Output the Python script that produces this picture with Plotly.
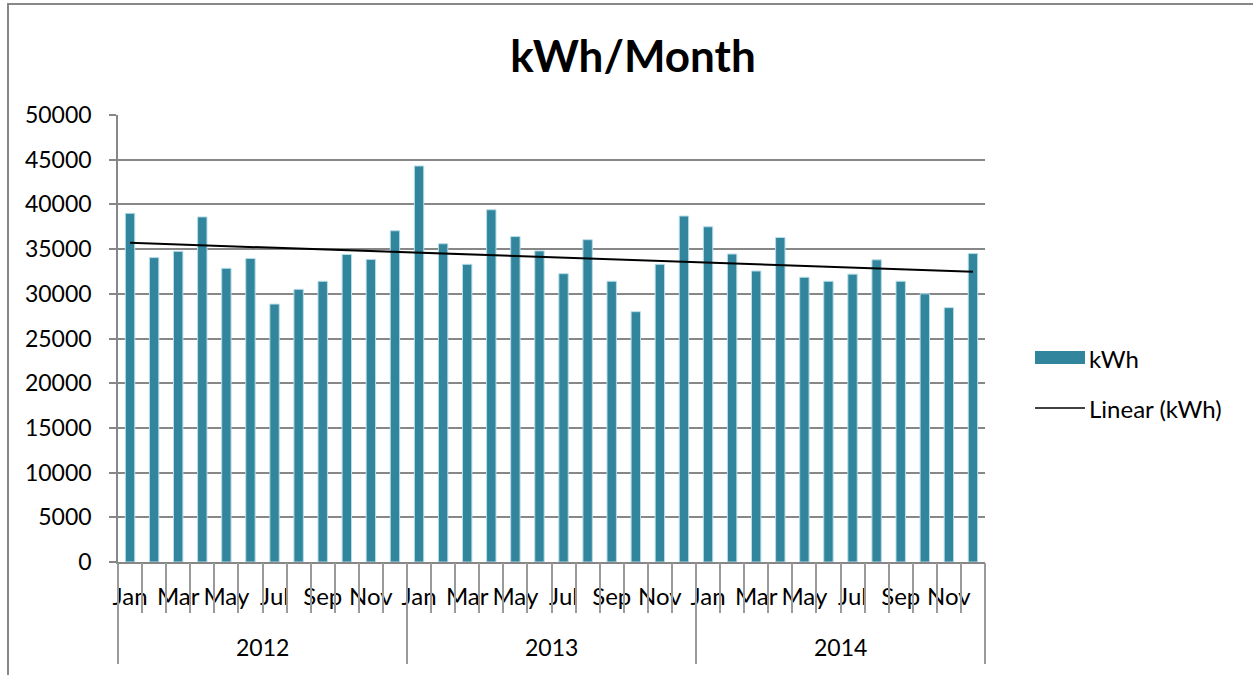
import numpy as np
import plotly.graph_objects as go

years = ["2012", "2013", "2014"]
months = ["Jan", "Feb", "Mar", "Apr", "May", "Jun", "Jul", "Aug", "Sep", "Oct", "Nov", "Dec"]
kwh_2012 = [39000, 34050, 34750, 38600, 32850, 33950, 28850, 30500, 31400, 34400, 33850, 37050]
kwh_2013 = [44300, 35600, 33300, 39400, 36400, 34800, 32250, 36050, 31400, 28000, 33300, 38700]
kwh_2014 = [37500, 34450, 32550, 36300, 31850, 31400, 32200, 33800, 31400, 30000, 28450, 34500]

values = kwh_2012 + kwh_2013 + kwh_2014
n = len(values)
idx = np.arange(n)
slope, intercept = np.polyfit(idx, values, 1)
trend = slope * idx + intercept

W, H = 1253, 675
L, R, T, B = 118, 985, 115, 562
pw, ph = R - L, B - T

def px(x):
    return (x - L) / pw

def py(y):
    return (B - y) / ph

FONT = "Lato"
GRID = "#878787"
BAR = "#31859C"

fig = go.Figure()
fig.add_trace(go.Bar(x=idx, y=values, name="kWh", marker=dict(color=BAR, line=dict(color="#b7dde8", width=1)),
                     width=0.39, showlegend=False))
fig.add_trace(go.Scatter(x=idx, y=trend, mode="lines", name="Linear (kWh)",
                         line=dict(color="black", width=2), showlegend=False))

month_pos = list(range(0, n, 2))
month_txt = [months[i % 12] for i in month_pos]
fig.update_layout(
    width=W, height=H,
    margin=dict(l=L, r=W - R, t=T, b=H - B, autoexpand=False),
    paper_bgcolor="white", plot_bgcolor="white",
    font=dict(family=FONT, size=23, color="black"),
    title=dict(text="<b>kWh/Month</b>", x=633 / W, xanchor="center", y=1 - 57 / H, yanchor="middle",
               font=dict(family=FONT, size=44, color="black")),
    xaxis=dict(range=[-0.5, n - 0.5], tickmode="array", tickvals=month_pos, ticktext=month_txt,
               ticks="", showgrid=False, zeroline=False, showline=True, linecolor=GRID, linewidth=1.5,
               ticklabelstandoff=12, tickfont=dict(family=FONT, size=24)),
    xaxis2=dict(range=[-0.5, n - 0.5], overlaying="x", anchor="y", side="bottom", tickmode="array",
                tickvals=[i - 0.5 for i in range(n + 1)], ticks="outside", ticklen=50, tickwidth=1.5,
                tickcolor="#9a9a9a", showticklabels=False, showgrid=False, zeroline=False, showline=False),
    xaxis3=dict(range=[-0.5, n - 0.5], overlaying="x", anchor="y", side="bottom", tickmode="array",
                tickvals=[k * 12 - 0.5 for k in range(len(years) + 1)], ticks="outside", ticklen=101,
                tickwidth=1.5, tickcolor="#9a9a9a", showticklabels=False, showgrid=False, zeroline=False,
                showline=False),
    yaxis=dict(range=[0, 50000], dtick=5000, tickformat="d", showgrid=True, gridcolor=GRID, gridwidth=1.5,
               zeroline=False, showline=True, linecolor=GRID, linewidth=1.5, ticks="outside", ticklen=7,
               tickwidth=1.5, tickcolor=GRID, ticklabelstandoff=13, tickfont=dict(family=FONT, size=23)),
)
fig.add_trace(go.Scatter(x=[0], y=[None], xaxis="x2", showlegend=False, hoverinfo="skip"))
fig.add_trace(go.Scatter(x=[0], y=[None], xaxis="x3", showlegend=False, hoverinfo="skip"))

for k, yr in enumerate(years):
    fig.add_annotation(x=k * 12 + 5.5, xref="x", y=py(647), yref="paper", text=yr, showarrow=False,
                       font=dict(family=FONT, size=23), xanchor="center", yanchor="middle")

fig.add_shape(type="rect", xref="paper", yref="paper", x0=px(1035), x1=px(1085), y0=py(364), y1=py(351),
              fillcolor=BAR, line=dict(width=0))
fig.add_annotation(x=px(1087), y=py(358), xref="paper", yref="paper", text="kWh", showarrow=False,
                   xanchor="left", yanchor="middle", font=dict(family=FONT, size=24))
fig.add_shape(type="line", xref="paper", yref="paper", x0=px(1035), x1=px(1085), y0=py(408), y1=py(408),
              line=dict(color="black", width=1.5))
fig.add_annotation(x=px(1087), y=py(408), xref="paper", yref="paper", text="Linear (kWh)", showarrow=False,
                   xanchor="left", yanchor="middle", font=dict(family=FONT, size=24))

fig.add_shape(type="path", xref="paper", yref="paper",
              path=f"M {px(8)},{py(H + 5)} L {px(8)},{py(4)} L {px(W + 5)},{py(4)}",
              line=dict(color=GRID, width=2))

fig.write_html("out.html", config={"displayModeBar": False},
               post_script="document.body.style.margin='0';")
